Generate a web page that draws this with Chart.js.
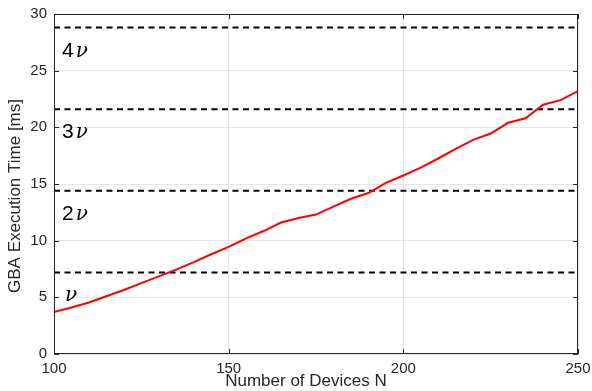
<!DOCTYPE html>
<html>
<head>
<meta charset="utf-8">
<script src="https://cdn.jsdelivr.net/npm/chart.js@4/dist/chart.umd.min.js"></script>
<style>
  html, body { margin: 0; padding: 0; background: #ffffff; }
  #wrap { width: 592px; height: 391px; position: relative; }
</style>
</head>
<body>
<div id="wrap"><canvas id="chart" width="592" height="391"></canvas></div>
<script>
// Number of devices N (x axis)
const devices = [100, 105, 110, 115, 120, 125, 130, 135, 140, 145, 150, 155, 160, 165, 170, 175,
                 180, 185, 190, 195, 200, 205, 210, 215, 220, 225, 230, 235, 240, 245, 250];
// GBA execution time in ms
const gbaTime = [3.7, 4.1, 4.55, 5.1, 5.65, 6.25, 6.85, 7.45, 8.1, 8.8, 9.45, 10.2, 10.85, 11.6, 12.0, 12.3,
                 13.0, 13.7, 14.2, 15.1, 15.75, 16.45, 17.25, 18.1, 18.9, 19.45, 20.4, 20.8, 22.0, 22.4, 23.2];
// Reference thresholds: multiples of nu
const nu = 7.2;
const nuMultiples = [1, 2, 3, 4];
const nuPrefixes = ['', '2', '3', '4'];
// Axis ticks
const xTicks = [100, 150, 200, 250];
const yTicks = [0, 5, 10, 15, 20, 25, 30];

const TEXT = '#262626';
const SANS = '"Liberation Sans", Arial, Helvetica, sans-serif';
const SERIF = '"DejaVu Serif", "Liberation Serif", serif';

const datasets = [
  {
    label: 'GBA',
    data: devices.map((n, i) => ({ x: n, y: gbaTime[i] })),
    borderColor: '#ff0000',
    borderWidth: 2,
    pointRadius: 0,
    tension: 0,
    fill: false
  }
];
nuMultiples.forEach(k => {
  datasets.push({
    label: k + 'nu',
    data: [{ x: devices[0], y: k * nu }, { x: devices[devices.length - 1], y: k * nu }],
    borderColor: '#000000',
    borderWidth: 2,
    borderDash: [6, 4.5],
    pointRadius: 0,
    fill: false
  });
});

// Box around the plot, inward tick marks, axis titles and nu labels
const frame = {
  id: 'frame',
  afterDraw(chart) {
    const { ctx, chartArea: a, scales: { x, y } } = chart;
    ctx.save();
    ctx.strokeStyle = TEXT;
    ctx.lineWidth = 1;
    ctx.strokeRect(a.left + 0.5, a.top + 0.5, a.right - a.left - 1, a.bottom - a.top - 1);
    const tl = 5;
    ctx.beginPath();
    xTicks.forEach(v => {
      const px = Math.round(x.getPixelForValue(v)) + 0.5;
      ctx.moveTo(px, a.bottom); ctx.lineTo(px, a.bottom - tl);
      ctx.moveTo(px, a.top); ctx.lineTo(px, a.top + tl);
    });
    yTicks.forEach(v => {
      const py = Math.round(y.getPixelForValue(v)) + 0.5;
      ctx.moveTo(a.left, py); ctx.lineTo(a.left + tl, py);
      ctx.moveTo(a.right, py); ctx.lineTo(a.right - tl, py);
    });
    ctx.stroke();

    // axis titles
    ctx.fillStyle = TEXT;
    ctx.font = '17px ' + SANS;
    ctx.textAlign = 'center';
    ctx.textBaseline = 'middle';
    ctx.fillText('Number of Devices N', 306, 381);
    ctx.translate(15, 196);
    ctx.rotate(-Math.PI / 2);
    ctx.fillText('GBA Execution Time [ms]', 0, 0);
    ctx.setTransform(1, 0, 0, 1, 0, 0);

    // nu labels under each threshold line
    ctx.fillStyle = '#000000';
    ctx.textAlign = 'left';
    ctx.textBaseline = 'alphabetic';
    nuMultiples.forEach((k, i) => {
      const base = y.getPixelForValue(k * nu - 2.55);
      let px = x.getPixelForValue(102.3);
      if (nuPrefixes[i]) {
        ctx.font = '21px ' + SANS;
        ctx.fillText(nuPrefixes[i], px, base);
        px += ctx.measureText(nuPrefixes[i]).width + 2;
      } else {
        px += 3;
      }
      ctx.font = 'italic 20px ' + SERIF;
      ctx.fillText('\u03bd', px, base);
    });
    ctx.restore();
  }
};

new Chart(document.getElementById('chart'), {
  type: 'line',
  data: { datasets },
  plugins: [frame],
  options: {
    responsive: false,
    animation: false,
    layout: { padding: { left: 0, top: 14, right: 14, bottom: 0 } },
    plugins: { legend: { display: false }, tooltip: { enabled: false } },
    scales: {
      x: {
        type: 'linear',
        min: 100, max: 250,
        afterBuildTicks: s => { s.ticks = xTicks.map(v => ({ value: v })); },
        afterFit: s => { s.height = 37; s.paddingLeft = 0; s.paddingRight = 0; },
        ticks: { color: TEXT, font: { size: 15, family: SANS }, padding: 6, maxRotation: 0 },
        grid: { color: '#e5e5e5', drawTicks: false, lineWidth: 1 },
        border: { display: false }
      },
      y: {
        min: 0, max: 30,
        afterBuildTicks: s => { s.ticks = yTicks.map(v => ({ value: v })); },
        afterFit: s => { s.width = 54; s.paddingTop = 0; s.paddingBottom = 0; },
        ticks: { color: TEXT, font: { size: 15, family: SANS }, padding: 7 },
        grid: { color: '#e5e5e5', drawTicks: false, lineWidth: 1 },
        border: { display: false }
      }
    }
  }
});
</script>
</body>
</html>
